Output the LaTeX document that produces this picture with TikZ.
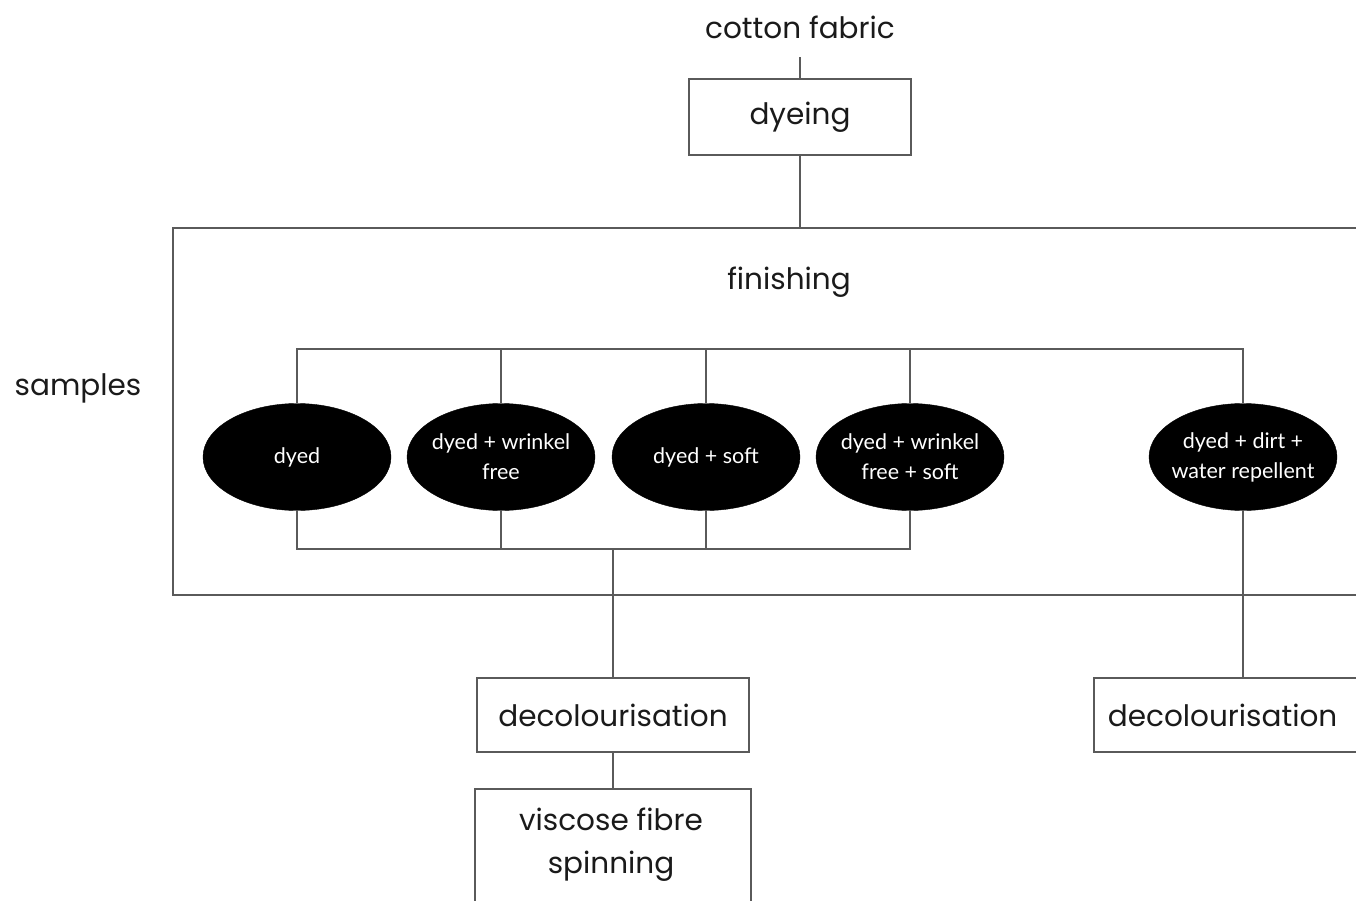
\documentclass[tikz,border=0pt]{standalone}
\usepackage{fontspec}
\setmainfont{Poppins}
\newfontfamily\ellfont{Lato}
\usetikzlibrary{shapes.geometric}
\definecolor{linegray}{HTML}{5A5A5A}
\definecolor{txt}{HTML}{1A1A1A}
\begin{document}
\begin{tikzpicture}[x=1pt,y=-1pt,
  conn/.style={draw=linegray, line width=1.8pt},
  boxnode/.style={draw=linegray, line width=1.8pt, fill=white, inner sep=0pt, text=txt, font=\fontsize{29.5}{36}\selectfont},
  plain/.style={text=txt, font=\fontsize{29.5}{36}\selectfont, inner sep=0pt},
  sample/.style={ellipse, fill=black, draw=black, minimum width=188pt, minimum height=107pt, inner xsep=-14pt, inner ysep=0pt, text=white, align=center, font=\ellfont\fontsize{21.5}{30}\selectfont}
]
\clip (0,0) rectangle (1356,901);
\fill[white] (0,0) rectangle (1356,901);

% finishing frame
\node (fin) [draw=linegray, line width=1.8pt, minimum width=1220pt, minimum height=367pt, inner sep=0pt] at (783,411.5) {};
\node (fintext) [plain] at (789,282) {finishing};
\node (samples) [plain] at (78,388) {samples};

% top
\node (cf) [plain, minimum height=60pt] at (800,27) {cotton fabric};
\node (dye) [boxnode, minimum width=222pt, minimum height=76pt] at (800,117) {dyeing};

% samples
\node (e1) [sample] at (297,457) {dyed};
\node (e2) [sample] at (501,457) {dyed + wrinkel\\free};
\node (e3) [sample] at (706,457) {dyed + soft};
\node (e4) [sample] at (910,457) {dyed + wrinkel\\free + soft};
\node (e5) [sample] at (1243,457) {dyed + dirt +\\water repellent};

\coordinate (tb) at (0,349);
\coordinate (bb) at (0,549);

% lower boxes
\node (dec1) [boxnode, minimum width=272pt, minimum height=74pt] at (613,715) {decolourisation};
\node (visc) [boxnode, minimum width=276pt, minimum height=150pt, anchor=north] at (613,788) {};
\node (visctext) [plain, align=center, font=\fontsize{29.5}{43}\selectfont, anchor=north] at (611,808) {viscose fibre\\spinning};
\node (dec2) [boxnode, minimum height=74pt, text width=270pt, align=left, anchor=west, inner xsep=14pt] at (1093,715) {decolourisation};

% connectors
\draw[conn] (cf.south) -- (dye.north);
\draw[conn] (dye.south) -- (dye.south |- fin.north);
\draw[conn] (e1.north) -- (e1.north |- tb) -- (e5.north |- tb) -- (e5.north);
\draw[conn] (e2.north) -- (e2.north |- tb);
\draw[conn] (e3.north) -- (e3.north |- tb);
\draw[conn] (e4.north) -- (e4.north |- tb);
\draw[conn] (e1.south) -- (e1.south |- bb) -- (e4.south |- bb) -- (e4.south);
\draw[conn] (e2.south) -- (e2.south |- bb);
\draw[conn] (e3.south) -- (e3.south |- bb);
\draw[conn] (dec1.north |- bb) -- (dec1.north);
\draw[conn] (dec1.south) -- (visc.north);
\draw[conn] (e5.south) -- (e5.south |- dec2.north);
\end{tikzpicture}
\end{document}
